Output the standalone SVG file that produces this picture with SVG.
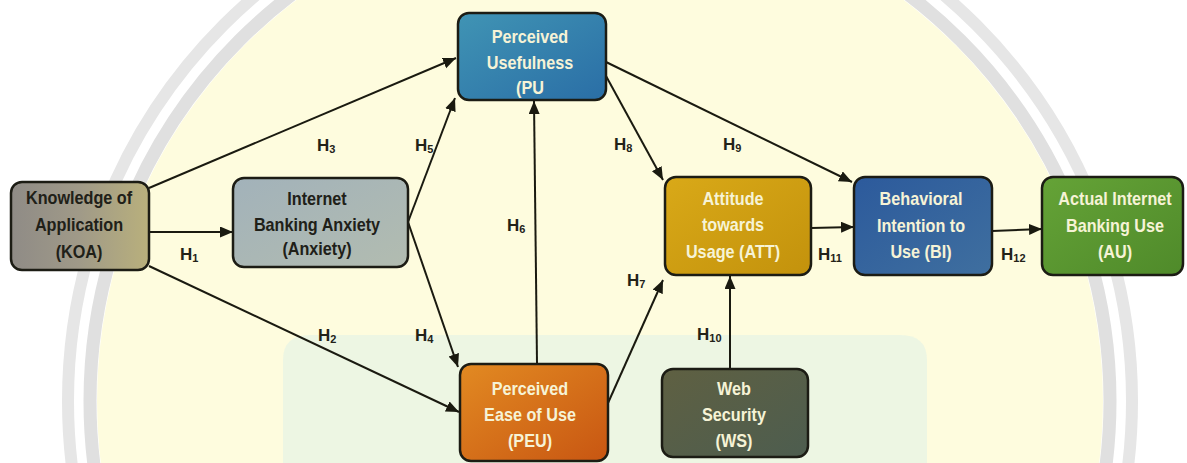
<svg xmlns="http://www.w3.org/2000/svg" width="1187" height="463" viewBox="0 0 1187 463">
<style>
.box { stroke: #1c1c14; stroke-width: 2.5; }
.nt { font-family: "Liberation Sans", Arial, sans-serif; font-weight: bold; font-size: 18px; text-anchor: middle; }
.dk { fill: #202018; }
.lt { fill: #f6f3d6; }
.h { font-family: "Liberation Sans", Arial, sans-serif; font-weight: bold; font-size: 17px; fill: #222218; }
.sub { font-size: 11px; }
.con line { stroke: #1a1a10; stroke-width: 2; marker-end: url(#arr); }
</style>
<defs>
<marker id="arr" markerUnits="userSpaceOnUse" markerWidth="14" markerHeight="12" refX="13" refY="5.5" orient="auto">
<path d="M0,0 L13,5.5 L0,11 z" fill="#1a1a10"/>
</marker>
<linearGradient id="gKoa" x1="0" y1="0" x2="1" y2="0"><stop offset="0" stop-color="#8f8b86"/><stop offset="0.5" stop-color="#a09a88"/><stop offset="1" stop-color="#b9b07c"/></linearGradient>
<linearGradient id="gAnx" x1="0" y1="0" x2="1" y2="1"><stop offset="0" stop-color="#a2b2ba"/><stop offset="1" stop-color="#b2bcb0"/></linearGradient>
<linearGradient id="gPu" x1="0" y1="0" x2="1" y2="1"><stop offset="0" stop-color="#4094b4"/><stop offset="1" stop-color="#2a6ea6"/></linearGradient>
<linearGradient id="gPeu" x1="0" y1="0" x2="1" y2="1"><stop offset="0" stop-color="#e28a22"/><stop offset="1" stop-color="#c85612"/></linearGradient>
<linearGradient id="gWs" x1="0" y1="0" x2="1" y2="1"><stop offset="0" stop-color="#5f6042"/><stop offset="1" stop-color="#4d5d4f"/></linearGradient>
<linearGradient id="gAtt" x1="0" y1="0" x2="1" y2="1"><stop offset="0" stop-color="#d9a918"/><stop offset="1" stop-color="#c3920c"/></linearGradient>
<linearGradient id="gBi" x1="0" y1="0" x2="1" y2="1"><stop offset="0" stop-color="#2c5a9c"/><stop offset="1" stop-color="#3f6f9f"/></linearGradient>
<linearGradient id="gAu" x1="0" y1="0" x2="1" y2="1"><stop offset="0" stop-color="#65a337"/><stop offset="1" stop-color="#4f8a2a"/></linearGradient>
</defs>

<g id="background">
<rect x="0" y="0" width="1187" height="463" fill="#ffffff"/>
<circle cx="600" cy="401" r="532" fill="none" stroke="#e6e6e6" stroke-width="12"/>
<circle cx="600" cy="401" r="510" fill="none" stroke="#e0e0e0" stroke-width="13"/>
<circle cx="600" cy="401" r="503" fill="#fefcde"/>
<path d="M283,463 L283,360 Q283,335 310,335 L900,335 Q927,335 927,360 L927,463 Z" fill="#e6f3e6" opacity="0.7"/>
</g>

<g id="connectors" class="con">
<line x1="149" y1="188" x2="456" y2="58"/>
<line x1="149" y1="232" x2="233" y2="232"/>
<line x1="149" y1="266" x2="459" y2="412"/>
<line x1="408" y1="222" x2="455" y2="98"/>
<line x1="408" y1="222" x2="458" y2="367"/>
<line x1="537" y1="363" x2="534" y2="101"/>
<line x1="608" y1="403" x2="663" y2="280"/>
<line x1="606" y1="76" x2="663" y2="180"/>
<line x1="606" y1="62" x2="852" y2="182"/>
<line x1="811" y1="228" x2="854" y2="227"/>
<line x1="992" y1="231" x2="1042" y2="229"/>
<line x1="730" y1="369" x2="730" y2="276"/>
</g>

<g id="labels">
<text class="h" x="317" y="151">H<tspan class="sub" dy="2">3</tspan></text>
<text class="h" x="415" y="151">H<tspan class="sub" dy="2">5</tspan></text>
<text class="h" x="180" y="260">H<tspan class="sub" dy="2">1</tspan></text>
<text class="h" x="318" y="341">H<tspan class="sub" dy="2">2</tspan></text>
<text class="h" x="415" y="341">H<tspan class="sub" dy="2">4</tspan></text>
<text class="h" x="507" y="231">H<tspan class="sub" dy="2">6</tspan></text>
<text class="h" x="614" y="150">H<tspan class="sub" dy="2">8</tspan></text>
<text class="h" x="723" y="150">H<tspan class="sub" dy="2">9</tspan></text>
<text class="h" x="627" y="286">H<tspan class="sub" dy="2">7</tspan></text>
<text class="h" x="818" y="260">H<tspan class="sub" dy="2">11</tspan></text>
<text class="h" x="1001" y="260">H<tspan class="sub" dy="2">12</tspan></text>
<text class="h" x="697" y="340">H<tspan class="sub" dy="2">10</tspan></text>
</g>

<g id="koa">
<rect class="box" x="11" y="182" width="138" height="88" rx="11" fill="url(#gKoa)"/>
<text class="nt dk" transform="matrix(0.9 0 0 1 79 0)"><tspan x="0" y="204">Knowledge of</tspan><tspan x="0" y="231">Application</tspan><tspan x="0" y="258">(KOA)</tspan></text>
</g>

<g id="anxiety">
<rect class="box" x="233" y="178" width="175" height="89" rx="11" fill="url(#gAnx)"/>
<text class="nt dk" transform="matrix(0.9 0 0 1 317 0)"><tspan x="0" y="205">Internet</tspan><tspan x="0" y="231">Banking Anxiety</tspan><tspan x="0" y="255">(Anxiety)</tspan></text>
</g>

<g id="pu">
<rect class="box" x="458" y="13" width="148" height="87" rx="11" fill="url(#gPu)"/>
<text class="nt lt" transform="matrix(0.9 0 0 1 530 0)"><tspan x="0" y="43">Perceived</tspan><tspan x="0" y="69">Usefulness</tspan><tspan x="0" y="94">(PU</tspan></text>
</g>

<g id="peu">
<rect class="box" x="460" y="364" width="148" height="97" rx="11" fill="url(#gPeu)"/>
<text class="nt lt" transform="matrix(0.9 0 0 1 530 0)"><tspan x="0" y="395">Perceived</tspan><tspan x="0" y="421">Ease of Use</tspan><tspan x="0" y="447">(PEU)</tspan></text>
</g>

<g id="ws">
<rect class="box" x="662" y="369" width="146" height="88" rx="11" fill="url(#gWs)"/>
<text class="nt lt" transform="matrix(0.9 0 0 1 734 0)"><tspan x="0" y="395">Web</tspan><tspan x="0" y="421">Security</tspan><tspan x="0" y="447">(WS)</tspan></text>
</g>

<g id="att">
<rect class="box" x="665" y="177" width="146" height="98" rx="11" fill="url(#gAtt)"/>
<text class="nt lt" transform="matrix(0.9 0 0 1 733 0)"><tspan x="0" y="205">Attitude</tspan><tspan x="0" y="231">towards</tspan><tspan x="0" y="258">Usage (ATT)</tspan></text>
</g>

<g id="bi">
<rect class="box" x="854" y="177" width="138" height="98" rx="11" fill="url(#gBi)"/>
<text class="nt lt" transform="matrix(0.9 0 0 1 921 0)"><tspan x="0" y="205">Behavioral</tspan><tspan x="0" y="232">Intention to</tspan><tspan x="0" y="258">Use (BI)</tspan></text>
</g>

<g id="au">
<rect class="box" x="1042" y="177" width="141" height="98" rx="11" fill="url(#gAu)"/>
<text class="nt lt" transform="matrix(0.9 0 0 1 1115 0)"><tspan x="0" y="205">Actual Internet</tspan><tspan x="0" y="232">Banking Use</tspan><tspan x="0" y="258">(AU)</tspan></text>
</g>
</svg>
